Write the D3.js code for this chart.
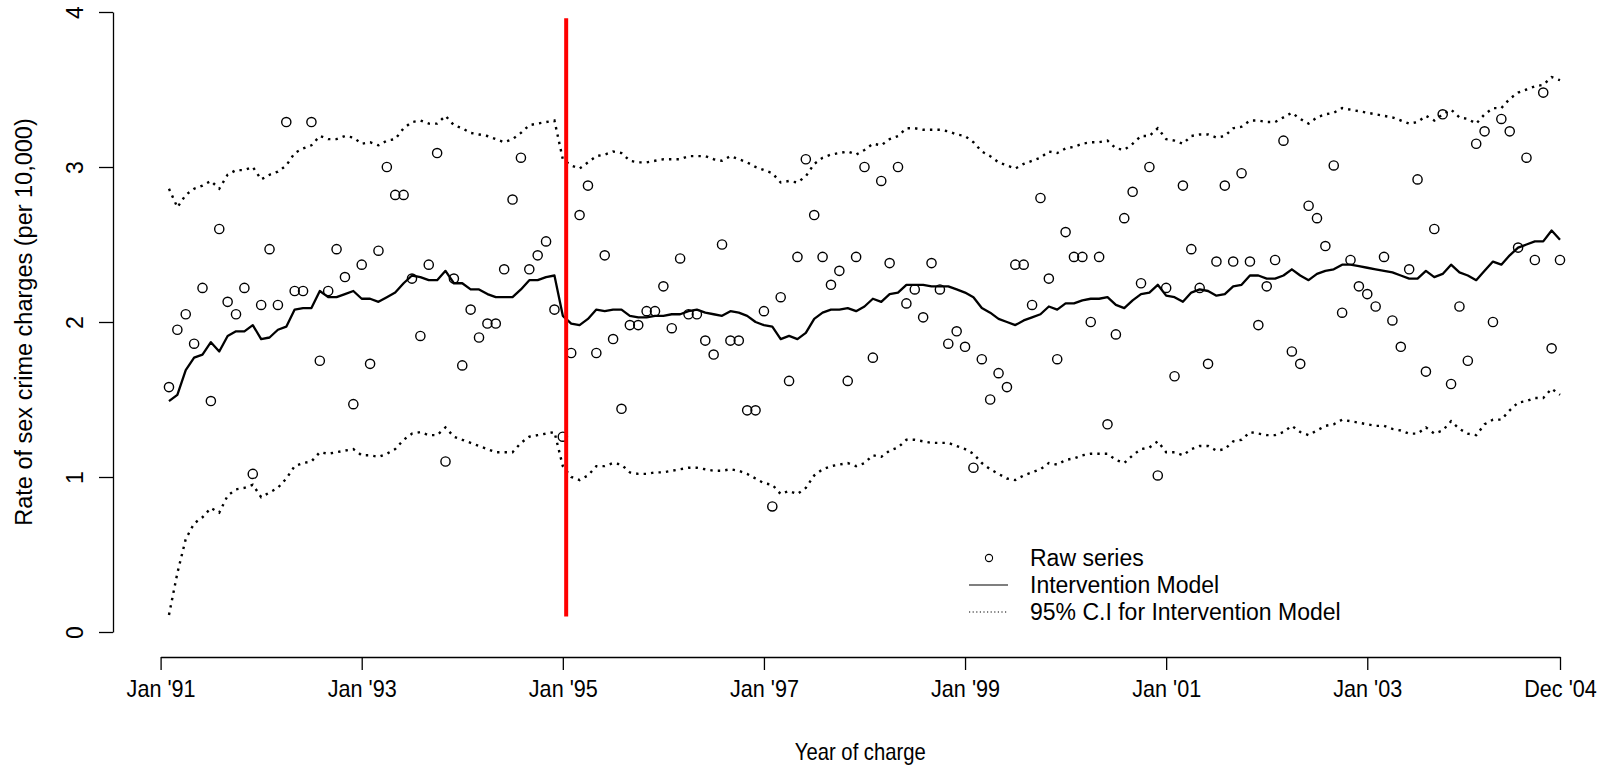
<!DOCTYPE html>
<html><head><meta charset="utf-8">
<script src="https://cdn.jsdelivr.net/npm/d3@7"></script>
<style>
html,body{margin:0;padding:0;background:#fff;}
svg{display:block;}
text{font-family:"Liberation Sans",Arial,Helvetica,sans-serif;fill:#000;}
</style>
</head><body>
<svg id="chart" width="1604" height="766"></svg>
<script>
// ---- data (monthly, Feb '91 .. Dec '04) ----
const rawSeries = [
1.58,1.95,2.05,1.86,2.22,1.49,2.60,2.13,2.05,2.22,1.02,2.11,2.47,2.11,3.29,2.20,2.20,3.29,1.75,2.20,2.47,2.29,1.47,2.37,1.73,2.46,3.00,
2.82,2.82,2.28,1.91,2.37,3.09,1.10,2.28,1.72,2.08,1.90,1.99,1.99,2.34,2.79,3.06,2.34,2.43,2.52,2.08,1.26,1.80,2.69,2.88,1.80,2.43,1.89,1.44,
1.98,1.98,2.07,2.07,2.23,1.96,2.41,2.05,2.05,1.88,1.79,2.50,1.88,1.88,1.43,1.43,2.07,0.81,2.16,1.62,2.42,3.05,2.69,2.42,2.24,2.33,1.62,
2.42,3.00,1.77,2.91,2.38,3.00,2.12,2.21,2.03,2.38,2.21,1.86,1.94,1.84,1.06,1.76,1.50,1.67,1.58,2.37,2.37,2.11,2.80,2.28,1.76,2.58,2.42,
2.42,2.00,2.42,1.34,1.92,2.67,2.84,2.25,3.00,1.01,2.22,1.65,2.88,2.47,2.22,1.73,2.39,2.88,2.39,2.96,2.39,1.98,2.23,2.40,3.17,1.81,1.73,2.75,
2.67,2.49,3.01,2.06,2.40,2.23,2.18,2.10,2.42,2.01,1.84,2.34,2.92,1.68,2.60,3.34,1.60,2.10,1.75,3.15,3.23,2.00,3.31,3.23,2.48,3.06,2.40,3.48,1.83,2.40
];
const modelFit = [
1.49,1.53,1.69,1.77,1.79,1.87,1.81,1.91,1.94,1.94,1.98,1.89,1.90,1.95,1.97,2.08,2.09,2.09,2.20,2.16,2.16,2.18,2.20,2.15,2.15,2.13,2.16,
2.19,2.25,2.30,2.29,2.27,2.27,2.33,2.25,2.25,2.21,2.21,2.18,2.16,2.16,2.16,2.21,2.27,2.27,2.29,2.30,2.04,1.99,1.98,2.02,2.08,2.07,2.08,2.08,
2.04,2.03,2.03,2.04,2.04,2.05,2.05,2.07,2.08,2.06,2.05,2.04,2.07,2.06,2.04,2.00,1.98,1.97,1.89,1.91,1.89,1.93,2.02,2.06,2.08,2.08,2.09,
2.07,2.10,2.15,2.13,2.18,2.19,2.24,2.24,2.24,2.23,2.23,2.23,2.21,2.19,2.16,2.09,2.06,2.02,2.00,1.98,2.01,2.03,2.05,2.10,2.08,2.12,2.12,
2.14,2.15,2.15,2.16,2.11,2.09,2.14,2.18,2.19,2.24,2.17,2.16,2.13,2.19,2.21,2.20,2.17,2.18,2.23,2.24,2.30,2.30,2.28,2.28,2.30,2.34,2.30,2.27,
2.31,2.33,2.34,2.37,2.37,2.36,2.35,2.34,2.33,2.32,2.30,2.28,2.28,2.33,2.29,2.31,2.37,2.32,2.30,2.27,2.33,2.39,2.37,2.43,2.48,2.50,2.52,2.52,2.59,2.53
];
const upperCI = [
2.86,2.74,2.82,2.86,2.88,2.91,2.86,2.95,2.98,2.98,3.00,2.92,2.95,2.97,3.01,3.09,3.12,3.14,3.20,3.18,3.18,3.20,3.19,3.15,3.16,3.14,3.17,
3.18,3.25,3.29,3.30,3.28,3.28,3.33,3.27,3.25,3.22,3.21,3.20,3.18,3.16,3.18,3.22,3.27,3.28,3.29,3.30,3.05,3.01,2.99,3.03,3.07,3.08,3.10,3.09,
3.04,3.03,3.03,3.04,3.05,3.05,3.05,3.07,3.07,3.07,3.05,3.04,3.07,3.05,3.03,3.00,2.98,2.96,2.90,2.91,2.90,2.94,3.02,3.06,3.08,3.09,3.10,
3.08,3.11,3.15,3.14,3.18,3.20,3.25,3.25,3.24,3.24,3.24,3.23,3.21,3.20,3.16,3.10,3.07,3.03,3.01,2.99,3.02,3.04,3.06,3.10,3.09,3.12,3.13,
3.15,3.16,3.16,3.17,3.12,3.11,3.15,3.20,3.20,3.25,3.18,3.17,3.15,3.20,3.21,3.21,3.19,3.20,3.25,3.26,3.30,3.30,3.29,3.29,3.32,3.35,3.31,3.28,
3.32,3.34,3.35,3.38,3.37,3.36,3.35,3.34,3.33,3.32,3.30,3.28,3.29,3.33,3.30,3.34,3.37,3.32,3.31,3.28,3.34,3.38,3.38,3.44,3.48,3.50,3.52,3.53,3.58,3.56
];
const lowerCI = [
0.11,0.38,0.60,0.70,0.74,0.80,0.77,0.88,0.92,0.93,0.95,0.87,0.90,0.93,0.99,1.07,1.09,1.10,1.16,1.15,1.16,1.17,1.18,1.14,1.14,1.13,1.15,
1.18,1.24,1.28,1.29,1.27,1.27,1.32,1.26,1.24,1.22,1.20,1.18,1.16,1.16,1.16,1.22,1.26,1.27,1.28,1.29,1.07,1.00,0.98,1.01,1.07,1.07,1.09,1.08,
1.03,1.02,1.02,1.03,1.03,1.04,1.05,1.06,1.06,1.05,1.04,1.04,1.05,1.04,1.02,0.99,0.96,0.95,0.89,0.91,0.89,0.93,1.01,1.05,1.07,1.08,1.09,
1.07,1.09,1.14,1.13,1.17,1.19,1.24,1.24,1.23,1.22,1.22,1.22,1.20,1.18,1.15,1.09,1.05,1.02,0.99,0.98,1.01,1.03,1.05,1.09,1.08,1.11,1.12,
1.14,1.15,1.15,1.15,1.11,1.09,1.14,1.18,1.19,1.23,1.16,1.16,1.14,1.18,1.20,1.20,1.17,1.18,1.23,1.24,1.29,1.28,1.27,1.27,1.29,1.33,1.29,1.27,
1.30,1.33,1.34,1.37,1.36,1.35,1.34,1.33,1.33,1.31,1.30,1.28,1.28,1.32,1.28,1.30,1.36,1.31,1.28,1.27,1.34,1.37,1.37,1.43,1.48,1.49,1.51,1.51,1.57,1.53
];
const firstMonth = 1;                 // months after Jan '91
const xTickMonths = [0,24,48,72,96,120,144,167];
const xTickLabels = ["Jan '91","Jan '93","Jan '95","Jan '97","Jan '99","Jan '01","Jan '03","Dec '04"];
const yTicks = [0,1,2,3,4];
const interventionMonth = 48.4;       // Jan '95
const interventionSpan = [0.1, 3.96];
const legendLabels = ["Raw series","Intervention Model","95% C.I for Intervention Model"];
const xTitle = "Year of charge";
const yTitle = "Rate of sex crime charges (per 10,000)";

// ---- layout ----
const svg = d3.select("#chart");
const x = d3.scaleLinear().domain([0,167]).range([160.6,1560]);
const y = d3.scaleLinear().domain([0,4]).range([632,12]);
const axisX = 113;   // left axis position
const axisY = 657;   // bottom axis position
const FONT = 23;

const months = rawSeries.map((d,i)=>firstMonth+i);

// y axis
const yAxis = svg.append("g").attr("transform",`translate(${axisX},0)`)
  .call(d3.axisLeft(y).tickValues(yTicks).tickSize(14).tickSizeOuter(0).tickFormat(d3.format("d")));
yAxis.select(".domain").attr("stroke","#000").attr("stroke-width",1.3);
yAxis.selectAll(".tick line").attr("stroke","#000").attr("stroke-width",1.3);
yAxis.selectAll(".tick text").attr("x",null).attr("dy",null).attr("y",null)
  .attr("transform","translate(-30,0) rotate(-90)").attr("text-anchor","middle")
  .attr("font-size",FONT).attr("font-family",null);

// x axis
const xAxis = svg.append("g").attr("transform",`translate(0,${axisY})`)
  .call(d3.axisBottom(x).tickValues(xTickMonths).tickSize(13).tickSizeOuter(0).tickFormat((d,i)=>xTickLabels[i]));
xAxis.select(".domain").attr("stroke","#000").attr("stroke-width",1.3);
xAxis.selectAll(".tick line").attr("stroke","#000").attr("stroke-width",1.3);
xAxis.selectAll(".tick text").attr("y",32).attr("dy","0.35em").attr("font-size",FONT).attr("font-family",null)
  .attr("transform","scale(0.94,1)");

// titles
svg.append("text").attr("transform",`translate(${(160.6+1560)/2},760) scale(0.88,1)`).attr("text-anchor","middle")
  .attr("font-size",FONT).text(xTitle);
svg.append("text").attr("transform",`translate(32,${(632+12)/2}) rotate(-90)`).attr("text-anchor","middle")
  .attr("font-size",23.5).text(yTitle);

// raw points
svg.append("g").selectAll("circle").data(rawSeries).join("circle")
  .attr("cx",(d,i)=>x(months[i])).attr("cy",d=>y(d)).attr("r",4.6)
  .attr("fill","none").attr("stroke","#000").attr("stroke-width",1.4);

const line = d3.line().x((d,i)=>x(months[i])).y(d=>y(d));
svg.append("path").attr("d",line(modelFit)).attr("fill","none").attr("stroke","#000").attr("stroke-width",2.3).attr("stroke-linejoin","round");
[upperCI, lowerCI].forEach(s=>{
  svg.append("path").attr("d",line(s)).attr("fill","none").attr("stroke","#000")
    .attr("stroke-width",2.4).attr("stroke-dasharray","2.4 5.1");
});

// intervention line
svg.append("line").attr("x1",x(interventionMonth)).attr("x2",x(interventionMonth))
  .attr("y1",y(interventionSpan[0])).attr("y2",y(interventionSpan[1]))
  .attr("stroke","#ff0000").attr("stroke-width",4);

// legend
const lg = svg.append("g");
const lgRows = [558,585,612];
lg.append("circle").attr("cx",989).attr("cy",lgRows[0]).attr("r",3.6).attr("fill","none").attr("stroke","#000").attr("stroke-width",1.1);
lg.append("line").attr("x1",969).attr("x2",1008).attr("y1",lgRows[1]).attr("y2",lgRows[1]).attr("stroke","#000").attr("stroke-width",1.2);
lg.append("line").attr("x1",969).attr("x2",1008).attr("y1",lgRows[2]).attr("y2",lgRows[2]).attr("stroke","#000").attr("stroke-width",1.2).attr("stroke-dasharray","1.2 2.4");
legendLabels.forEach((t,i)=>{
  lg.append("text").attr("x",1030).attr("y",lgRows[i]).attr("dy","0.35em").attr("font-size",23).text(t);
});
</script>
</body></html>
